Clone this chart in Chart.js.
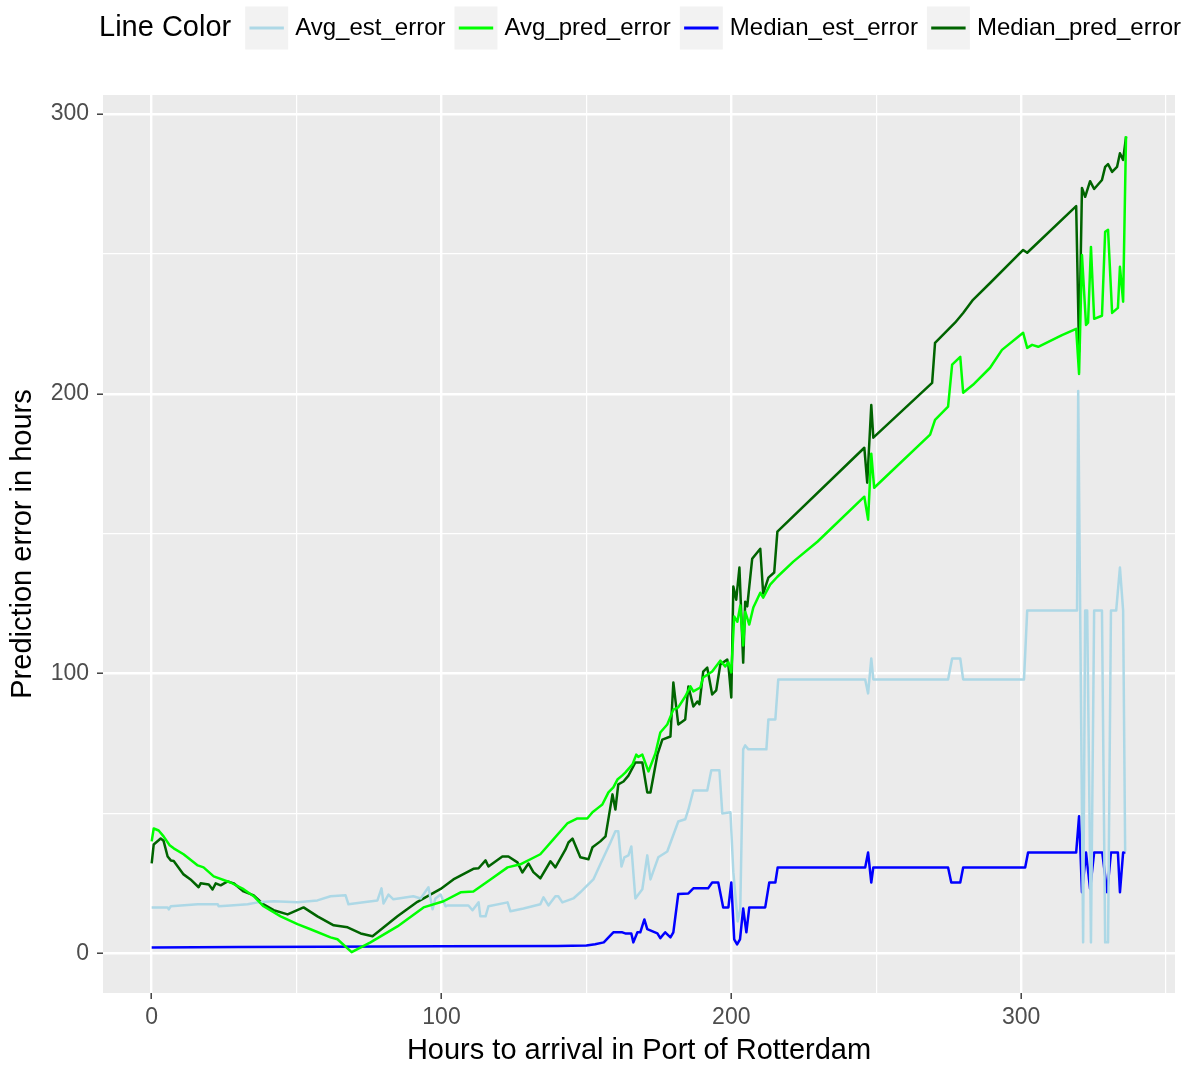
<!DOCTYPE html>
<html>
<head>
<meta charset="utf-8">
<script src="https://cdn.jsdelivr.net/npm/chart.js@4.4.1/dist/chart.umd.min.js"></script>
<style>
  html, body { margin: 0; padding: 0; background: #ffffff; }
  #wrap { width: 1186px; height: 1068px; }
</style>
</head>
<body>
<div id="wrap"><canvas id="errChart" width="1186" height="1068"></canvas></div>
<script>
// hours to arrival and error values per series
const avgEstHours = [0, 5.5, 5.9, 6.6, 15.9, 22.8, 23.1, 27.2, 33.1, 36.6, 42.1, 50.3, 57.2, 61.7, 66.9, 67.9, 73.1, 77.9, 79.3, 80, 81.7, 83.4, 90.3, 92.8, 95.5, 96.9, 97.9, 99.7, 101.4, 102.1, 109.3, 110.7, 112.8, 113.4, 115.2, 116.2, 122.8, 123.8, 128.3, 134.1, 135.2, 136.9, 139.3, 140.3, 141.7, 145.5, 147.9, 149, 152.4, 154.8, 158.3, 160, 161, 162.1, 163.1, 164.5, 165.5, 166.9, 169.3, 171, 172.1, 174.8, 177.9, 181.7, 184.1, 185.2, 186.9, 191.7, 193.1, 195.9, 196.9, 199.7, 200.7, 202.2, 203.1, 204.1, 204.8, 205.9, 212.1, 212.8, 215.2, 216.2, 246.2, 247.2, 248.3, 249, 274.8, 276.2, 279, 280, 301, 302.1, 319.3, 319.7, 321.4, 322.1, 322.8, 324.1, 325.2, 327.9, 329, 330, 331, 332.8, 334.1, 335.2, 335.9];
const avgEstError = [16.4, 16.4, 15.7, 16.8, 17.5, 17.5, 16.8, 17.1, 17.5, 18.2, 18.6, 18.2, 18.9, 20.4, 20.7, 17.5, 18.2, 18.9, 23.2, 17.8, 21, 19.3, 20.4, 19.6, 23.6, 15.7, 19.6, 21, 16.8, 17.1, 17.1, 15.4, 18.2, 13.2, 13.2, 16.8, 18.2, 15, 16, 17.5, 20, 17.1, 20.4, 20.4, 18.2, 19.6, 21.8, 22.9, 26.4, 31.8, 39.6, 43.6, 43.6, 31, 34.3, 35, 38.2, 19.6, 22.9, 35, 26.4, 34.3, 36.4, 47.1, 47.9, 51.4, 58.2, 58.2, 65.4, 65.4, 50, 50.4, 29, 11.4, 16, 72.9, 74.3, 72.9, 72.9, 83.6, 83.6, 97.9, 97.9, 92.9, 105.4, 97.9, 97.9, 105.4, 105.4, 97.9, 97.9, 122.5, 122.5, 201, 3.9, 122.5, 122.5, 3.9, 122.5, 122.5, 3.9, 3.9, 122.5, 122.5, 137.9, 122.5, 36.4];

const avgPredHours = [0, 0.7, 2.4, 4.1, 6.2, 7.6, 11, 15.9, 17.9, 21.4, 27.2, 31.7, 35.2, 38.6, 44.5, 50.3, 54.8, 61.7, 64.1, 69, 75.5, 84.8, 93.8, 100.7, 106.6, 111, 116.9, 122.8, 127.2, 134.1, 138.6, 143.4, 146.9, 150.3, 152.1, 153.8, 155.5, 157.6, 159.3, 160.7, 162.4, 163.4, 165.9, 167.2, 167.9, 169.3, 171.4, 173.8, 175.5, 177.9, 180, 181.7, 184.1, 185.9, 186.9, 189.3, 190.3, 193.4, 196.2, 197.9, 199, 200, 201, 202.1, 203.1, 204.1, 204.8, 206.2, 207.6, 210, 211, 213.4, 215.9, 221.4, 229.7, 245.9, 247.2, 248.3, 249.3, 268.6, 270.3, 274.8, 276.2, 279, 280, 283.4, 289.3, 293.4, 300.7, 302.1, 303.8, 305.9, 314.1, 319, 320, 321, 322.4, 323.1, 324.1, 325.2, 327.9, 329, 330, 331.4, 333.4, 334.1, 335.2, 336.2];
const avgPredError = [40, 44.6, 43.9, 41.8, 38.6, 37.5, 35.4, 31.4, 30.7, 27.5, 25.3, 22.9, 20.4, 16.8, 13.2, 10.4, 8.6, 5.7, 5, 0.4, 3.9, 9.6, 16.4, 18.6, 21.8, 22.1, 26.4, 30.7, 31.8, 35.4, 40.7, 46.4, 48.2, 48.2, 50.4, 51.8, 53.2, 57.5, 59.3, 62.1, 63.6, 64.6, 67.5, 71, 70.2, 71, 65, 71.4, 78.9, 81.8, 87.1, 87.9, 91.8, 95.4, 93.6, 95, 98.6, 100.7, 104.6, 102.5, 104, 100.4, 120.4, 118.5, 124.3, 110, 122.1, 117.5, 123.6, 128.9, 127.1, 131.8, 134.6, 140, 147.1, 163.2, 155, 178.6, 166.4, 185.4, 190.7, 195.4, 210.4, 213.2, 200.4, 203.2, 209.3, 215.7, 221.8, 216.4, 217.5, 216.8, 221, 223.2, 207.1, 249.6, 224.6, 225.4, 252.5, 226.8, 227.9, 257.9, 258.6, 228.9, 230.7, 245.4, 232.9, 292.1];

const medEstHours = [0, 30, 60, 100, 140, 150, 153, 156, 158.3, 159.3, 162.4, 163.4, 165.5, 166.2, 167.6, 168.6, 170, 171, 174.5, 175.5, 177.2, 179, 180, 181.7, 185.2, 186.9, 192, 193.4, 195.5, 197.2, 199, 200, 201, 202, 203, 204.1, 205.2, 206.2, 211.7, 213.1, 215.2, 216, 246.2, 247.2, 248.3, 249, 274.8, 275.9, 279, 280, 301.4, 302.4, 319, 320, 321, 322.4, 323.8, 325.2, 328, 329.7, 331, 332.4, 333.4, 334.1, 335.2, 336];
const medEstError = [2.1, 2.2, 2.3, 2.5, 2.6, 2.8, 3.2, 3.9, 6.4, 7.5, 7.5, 7.1, 7.1, 3.9, 7.5, 7.5, 12.1, 8.6, 7.1, 5.4, 7.5, 5.7, 7.5, 21.2, 21.4, 23.2, 23.2, 25.3, 25.3, 16.4, 16.4, 25.3, 5, 3.2, 5, 16, 7.5, 16.4, 16.4, 25.3, 25.3, 30.7, 30.7, 36, 25.3, 30.7, 30.7, 25.3, 25.3, 30.7, 30.7, 36, 36, 49, 21.8, 36, 23, 36, 36, 21.8, 36, 36, 36, 21.8, 36, 36];

const medPredHours = [0, 0.7, 3.1, 4.1, 5.5, 6.6, 7.6, 11, 13.4, 16.2, 16.9, 19.7, 21, 22.1, 23.8, 26.2, 28.3, 31.7, 35.2, 38.6, 42.1, 46.9, 52.4, 57.2, 62.8, 67.6, 72.1, 76.2, 84.8, 91.7, 99.7, 104.1, 111, 112.8, 115.2, 116.2, 121, 123.1, 126.2, 127.9, 130, 131.7, 134.1, 137.6, 139.3, 142.8, 143.8, 145.2, 147.9, 150.7, 152.1, 154.8, 156.6, 159, 160, 161, 162.8, 164.5, 166.9, 169.3, 171, 172.1, 174.5, 176.2, 179, 180, 181.7, 184.1, 185.2, 186.9, 188.3, 189, 190.3, 191.7, 193.4, 194.8, 196.2, 198.6, 199, 200, 200.7, 201.7, 202.8, 204.1, 204.8, 205.5, 207.2, 210, 211, 212.8, 214.8, 215.9, 245.9, 246.9, 248.3, 249, 269.3, 270.3, 277.2, 280, 283.4, 289.3, 300.7, 302.1, 319, 320, 321, 322.1, 323.8, 325.2, 327.9, 329, 330, 331.4, 333.1, 334.1, 335.2, 336.2];
const medPredError = [32.1, 38.9, 41, 40.2, 34.6, 33.2, 33, 28.2, 26.4, 23.6, 25, 24.6, 22.8, 25, 24.3, 25.7, 25, 22.1, 20.7, 17.5, 15.4, 13.9, 16.4, 13.2, 10, 9.3, 7.1, 6.1, 13.2, 18.4, 23, 26.4, 30.2, 30.4, 33.2, 31, 34.6, 34.6, 32.5, 28.9, 32.1, 29, 26.8, 32.9, 30.7, 37.1, 39.6, 41, 34.3, 33.6, 37.9, 40, 41.8, 56.8, 51.4, 60.4, 61.4, 63.5, 68.2, 68.2, 57.5, 57.5, 71, 76.4, 77.5, 96.8, 81.8, 83.6, 95.4, 88.2, 90, 89, 100.7, 102.1, 92.5, 94, 103.2, 105, 103, 91.4, 131.1, 126.4, 137.9, 103.9, 125.7, 124, 141, 144.6, 128.6, 134.3, 136.1, 150.7, 180.7, 168.2, 196, 184.3, 203.9, 218.2, 225.4, 228.9, 233.6, 239.6, 251.4, 250.4, 267.1, 215, 273.6, 270.4, 276, 273.2, 276.4, 281.1, 282.1, 279.3, 281.1, 286, 283.6, 291.8];

const xTicks = [0, 50, 100, 150, 200, 250, 300, 350];
const yTicks = [0, 50, 100, 150, 200, 250, 300];

const FONT = '"Liberation Sans", Arial, Helvetica, sans-serif';
Chart.defaults.font.family = FONT;

function toPoints(hours, values) {
  return hours.map((h, i) => ({ x: h, y: values[i] }));
}

function isMajor(ctx) {
  return ctx.tick && ctx.tick.value % 100 === 0;
}

// grey panel behind the grid
const panelBg = {
  id: 'panelBg',
  beforeDraw(chart) {
    const { ctx, chartArea } = chart;
    ctx.save();
    ctx.fillStyle = '#EBEBEB';
    ctx.fillRect(chartArea.left, chartArea.top, chartArea.width, chartArea.height);
    ctx.restore();
  }
};

// horizontal legend with grey key boxes across the top
const keyLegend = {
  id: 'keyLegend',
  afterDraw(chart) {
    const ctx = chart.ctx;
    const midY = 28;
    const keySize = 43;
    ctx.save();
    ctx.textBaseline = 'middle';
    ctx.textAlign = 'left';
    ctx.fillStyle = '#000000';
    ctx.font = '29px ' + FONT;
    let x = 99;
    ctx.fillText('Line Color', x, midY);
    x += ctx.measureText('Line Color').width + 14;
    ctx.font = '24px ' + FONT;
    chart.data.datasets.forEach(ds => {
      ctx.fillStyle = '#F2F2F2';
      ctx.fillRect(x, midY - keySize / 2, keySize, keySize);
      ctx.strokeStyle = ds.borderColor;
      ctx.lineWidth = 3;
      ctx.beginPath();
      ctx.moveTo(x + keySize * 0.1, midY);
      ctx.lineTo(x + keySize * 0.9, midY);
      ctx.stroke();
      ctx.fillStyle = '#000000';
      const lx = x + keySize + 7;
      ctx.fillText(ds.label, lx, midY);
      x = lx + ctx.measureText(ds.label).width + 9;
    });
    ctx.restore();
  }
};

const lineStyle = {
  borderWidth: 2.5,
  pointRadius: 0,
  fill: false,
  tension: 0,
  borderJoinStyle: 'round'
};

const gridStyle = {
  color: '#FFFFFF',
  lineWidth: c => isMajor(c) ? 2.4 : 1.2,
  tickColor: c => isMajor(c) ? '#333333' : 'rgba(0,0,0,0)',
  tickWidth: 1.4,
  tickLength: 6
};

new Chart(document.getElementById('errChart'), {
  type: 'line',
  data: {
    datasets: [
      { label: 'Avg_est_error', data: toPoints(avgEstHours, avgEstError), borderColor: '#ADD8E6', order: 1, ...lineStyle },
      { label: 'Avg_pred_error', data: toPoints(avgPredHours, avgPredError), borderColor: '#00FF00', order: 0, ...lineStyle },
      { label: 'Median_est_error', data: toPoints(medEstHours, medEstError), borderColor: '#0000FF', order: 3, ...lineStyle },
      { label: 'Median_pred_error', data: toPoints(medPredHours, medPredError), borderColor: '#006400', order: 2, ...lineStyle }
    ]
  },
  options: {
    responsive: false,
    animation: false,
    devicePixelRatio: 1,
    events: [],
    layout: { padding: { top: 95, right: 11, left: 0, bottom: 0 } },
    plugins: {
      legend: { display: false },
      tooltip: { enabled: false }
    },
    scales: {
      x: {
        type: 'linear',
        min: -16.8,
        max: 353.1,
        afterBuildTicks: s => { s.ticks = xTicks.map(v => ({ value: v })); },
        afterFit: s => { s.height = 75; },
        grid: gridStyle,
        border: { display: false },
        ticks: {
          color: '#4D4D4D',
          font: { size: 23 },
          padding: 5,
          maxRotation: 0,
          autoSkip: false,
          callback: v => v % 100 === 0 ? String(v) : ''
        },
        title: {
          display: true,
          text: 'Hours to arrival in Port of Rotterdam',
          color: '#000000',
          font: { size: 29 },
          padding: { top: 1, bottom: 0 }
        }
      },
      y: {
        type: 'linear',
        min: -14.2,
        max: 306.8,
        afterBuildTicks: s => { s.ticks = yTicks.map(v => ({ value: v })); },
        afterFit: s => { s.width = 103; },
        grid: gridStyle,
        border: { display: false },
        ticks: {
          color: '#4D4D4D',
          font: { size: 23 },
          padding: 8,
          autoSkip: false,
          callback: v => v % 100 === 0 ? String(v) : ''
        },
        title: {
          display: true,
          text: 'Prediction error in hours',
          color: '#000000',
          font: { size: 29 },
          padding: { top: 6, bottom: 0 }
        }
      }
    }
  },
  plugins: [panelBg, keyLegend]
});
</script>
</body>
</html>
